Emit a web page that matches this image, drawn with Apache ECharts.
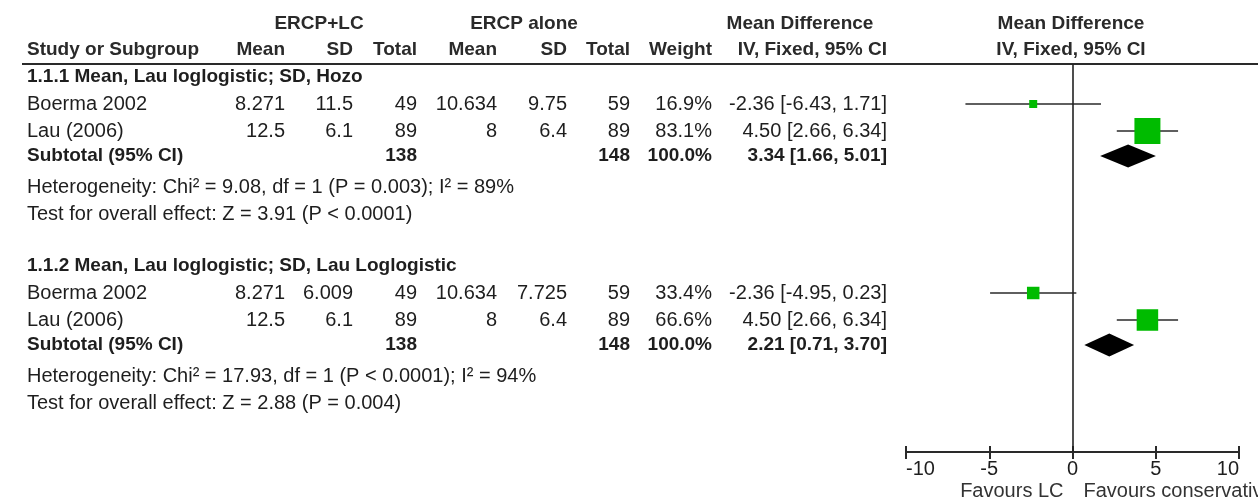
<!DOCTYPE html>
<html>
<head>
<meta charset="utf-8">
<script src="https://cdn.jsdelivr.net/npm/echarts@6/dist/echarts.min.js"></script>
<style>
  html, body { margin: 0; padding: 0; background: #fff; }
  #main { width: 1258px; height: 500px; }
</style>
</head>
<body>
<div id="main"></div>
<script>
// ---- Data: two subgroups, same two studies ----
const groupTitles = [
  '1.1.1 Mean, Lau loglogistic; SD, Hozo',
  '1.1.2 Mean, Lau loglogistic; SD, Lau Loglogistic'
];
const studies = ['Boerma 2002', 'Lau (2006)'];

// ERCP+LC arm
const lcMean  = [[8.271, 12.5], [8.271, 12.5]];
const lcSD    = [[11.5, 6.1],   [6.009, 6.1]];
const lcTotal = [[49, 89],      [49, 89]];
// ERCP alone arm
const alMean  = [[10.634, 8],   [10.634, 8]];
const alSD    = [[9.75, 6.4],   [7.725, 6.4]];
const alTotal = [[59, 89],      [59, 89]];

// study-level results
const weight = [[16.9, 83.1],   [33.4, 66.6]];
const md     = [[-2.36, 4.50],  [-2.36, 4.50]];
const ciLow  = [[-6.43, 2.66],  [-4.95, 2.66]];
const ciHigh = [[1.71, 6.34],   [0.23, 6.34]];

// pooled (subtotal) results
const subLcTotal = [138, 138];
const subAlTotal = [148, 148];
const subWeight  = [100.0, 100.0];
const subMd      = [3.34, 2.21];
const subLow     = [1.66, 0.71];
const subHigh    = [5.01, 3.70];

const heterogeneity = [
  'Heterogeneity: Chi² = 9.08, df = 1 (P = 0.003); I² = 89%',
  'Heterogeneity: Chi² = 17.93, df = 1 (P < 0.0001); I² = 94%'
];
const overallEffect = [
  'Test for overall effect: Z = 3.91 (P < 0.0001)',
  'Test for overall effect: Z = 2.88 (P = 0.004)'
];

const xTicks = { min: -10, max: 10, step: 5 };
const favourLabels = ['Favours LC', 'Favours conservative'];

// ---- Layout ----
const FONT = '"Liberation Sans", Arial, sans-serif';
const FS_REG = 20, FS_BOLD = 19;
const TXT = '#1e1e1e';
const ROW0_Y = 77, ROW_H = 27;          // first table row centre, row pitch
const GRID_TOP = 64, GRID_BOTTOM_Y = 452;
const PLOT_L = 906, PLOT_R = 1239;

// column anchors for the table (x, alignment)
const COL = {
  name: [27, 'left'],
  m1: [285, 'right'], sd1: [353, 'right'], n1: [417, 'right'],
  m2: [497, 'right'], sd2: [567, 'right'], n2: [630, 'right'],
  w: [712, 'right'], ci: [887, 'right']
};

const fmtCI = (e, l, h) => `${e.toFixed(2)} [${l.toFixed(2)}, ${h.toFixed(2)}]`;

// ---- Build table rows and forest marks from the arrays ----
const tableRows = [];   // {row, bold, cells:{col:text}}
const forestData = [];  // [est, row, lo, hi, weight, kind]
let start = 0;
groupTitles.forEach((title, g) => {
  tableRows.push({ row: start, bold: true, cells: { name: title } });
  studies.forEach((s, i) => {
    const r = start + 1 + i;
    tableRows.push({
      row: r, bold: false, cells: {
        name: s,
        m1: String(lcMean[g][i]), sd1: String(lcSD[g][i]), n1: String(lcTotal[g][i]),
        m2: String(alMean[g][i]), sd2: String(alSD[g][i]), n2: String(alTotal[g][i]),
        w: weight[g][i].toFixed(1) + '%',
        ci: fmtCI(md[g][i], ciLow[g][i], ciHigh[g][i])
      }
    });
    forestData.push([md[g][i], r, ciLow[g][i], ciHigh[g][i], weight[g][i], 0]);
  });
  const n = studies.length;
  const subRow = start + n + 0.93;
  tableRows.push({
    row: subRow, bold: true, cells: {
      name: 'Subtotal (95% CI)',
      n1: String(subLcTotal[g]), n2: String(subAlTotal[g]),
      w: subWeight[g].toFixed(1) + '%',
      ci: fmtCI(subMd[g], subLow[g], subHigh[g])
    }
  });
  forestData.push([subMd[g], subRow, subLow[g], subHigh[g], subWeight[g], 1]);
  tableRows.push({ row: start + n + 2.1, bold: false, cells: { name: heterogeneity[g] } });
  tableRows.push({ row: start + n + 3.1, bold: false, cells: { name: overallEffect[g] } });
  start += n + 5.0;
});

const yMin = (GRID_TOP - ROW0_Y) / ROW_H;
const yMax = (GRID_BOTTOM_Y - ROW0_Y) / ROW_H;

function font(bold) { return bold ? ('bold ' + FS_BOLD + 'px ' + FONT) : (FS_REG + 'px ' + FONT); }

function renderTable(params, api) {
  const rec = tableRows[params.dataIndex];
  const y = api.coord([0, api.value(1)])[1];
  const children = Object.keys(rec.cells).map(k => ({
    type: 'text',
    x: COL[k][0], y: y,
    style: {
      text: rec.cells[k], font: font(rec.bold), fill: TXT,
      align: COL[k][1], verticalAlign: 'middle'
    }
  }));
  return { type: 'group', children };
}

function renderForest(params, api) {
  const row = api.value(1);
  const c = api.coord([api.value(0), row]);
  const lo = api.coord([api.value(2), row]);
  const hi = api.coord([api.value(3), row]);
  if (api.value(5) === 1) {
    const hh = 11.5;
    return {
      type: 'polygon',
      shape: { points: [[lo[0], c[1]], [c[0], c[1] - hh], [hi[0], c[1]], [c[0], c[1] + hh]] },
      style: { fill: '#000' }
    };
  }
  const s = 3.4 + 0.272 * api.value(4);
  return {
    type: 'group',
    children: [
      { type: 'line', shape: { x1: lo[0], y1: c[1], x2: hi[0], y2: c[1] },
        style: { stroke: '#2a2a2a', lineWidth: 1.6 } },
      { type: 'rect', shape: { x: c[0] - s / 2, y: c[1] - s / 2, width: s, height: s },
        style: { fill: '#00bb00' } }
    ]
  };
}

function headerText(text, x, y, align) {
  return {
    type: 'text', x, y, silent: true,
    style: { text, font: font(true), fill: '#2a2a2a', align, verticalAlign: 'middle' }
  };
}

const zeroX = PLOT_L + (PLOT_R - PLOT_L) * (0 - xTicks.min) / (xTicks.max - xTicks.min);
const tickStyle = { color: '#2a2a2a', width: 2 };

const chart = echarts.init(document.getElementById('main'), null, { renderer: 'canvas' });
chart.setOption({
  animation: false,
  backgroundColor: '#fff',
  grid: [
    { left: PLOT_L, right: 1258 - PLOT_R, top: GRID_TOP, bottom: 500 - GRID_BOTTOM_Y },
    // thin strip just above the scale, carrying the upward half of each tick
    { left: PLOT_L, right: 1258 - PLOT_R, top: GRID_BOTTOM_Y - 1, height: 1 }
  ],
  xAxis: [
    {
      gridIndex: 0, type: 'value', min: xTicks.min, max: xTicks.max, interval: xTicks.step,
      position: 'bottom',
      axisLine: { show: true, onZero: false, lineStyle: tickStyle },
      axisTick: { show: true, length: 7, lineStyle: tickStyle },
      axisLabel: {
        fontSize: FS_REG, fontFamily: FONT, color: TXT, margin: 7,
        alignMinLabel: 'left', alignMaxLabel: 'right'
      },
      splitLine: { show: false }
    },
    {
      gridIndex: 1, type: 'value', min: xTicks.min, max: xTicks.max, interval: xTicks.step,
      position: 'top',
      axisLine: { show: false },
      axisTick: { show: true, length: 6, lineStyle: tickStyle },
      axisLabel: { show: false },
      splitLine: { show: false }
    }
  ],
  yAxis: [
    { gridIndex: 0, type: 'value', inverse: true, min: yMin, max: yMax, show: false },
    { gridIndex: 1, type: 'value', show: false }
  ],
  series: [
    {
      type: 'custom', name: 'table', clip: false, silent: true,
      renderItem: renderTable,
      encode: { x: 0, y: 1 },
      data: tableRows.map(r => [0, r.row])
    },
    {
      type: 'custom', name: 'forest', clip: false, silent: true,
      renderItem: renderForest,
      encode: { x: 0, y: 1 },
      data: forestData,
      markLine: {
        silent: true, symbol: 'none', label: { show: false },
        lineStyle: { color: '#222', width: 1.6, type: 'solid' },
        data: [{ xAxis: 0 }]
      }
    }
  ],
  graphic: [
    // header rule
    { type: 'line', silent: true,
      shape: { x1: 22, y1: GRID_TOP, x2: 1258, y2: GRID_TOP },
      style: { stroke: '#2a2a2a', lineWidth: 2 } },
    headerText('ERCP+LC', 319, 24, 'center'),
    headerText('ERCP alone', 524, 24, 'center'),
    headerText('Mean Difference', 800, 24, 'center'),
    headerText('Mean Difference', 1071, 24, 'center'),
    headerText('Study or Subgroup', COL.name[0], 50, 'left'),
    headerText('Mean', COL.m1[0], 50, 'right'),
    headerText('SD', COL.sd1[0], 50, 'right'),
    headerText('Total', COL.n1[0], 50, 'right'),
    headerText('Mean', COL.m2[0], 50, 'right'),
    headerText('SD', COL.sd2[0], 50, 'right'),
    headerText('Total', COL.n2[0], 50, 'right'),
    headerText('Weight', COL.w[0], 50, 'right'),
    headerText('IV, Fixed, 95% CI', COL.ci[0], 50, 'right'),
    headerText('IV, Fixed, 95% CI', 1071, 50, 'center'),
    { type: 'text', silent: true, x: zeroX - 9, y: 491,
      style: { text: favourLabels[0], font: font(false), fill: '#333', align: 'right', verticalAlign: 'middle' } },
    { type: 'text', silent: true, x: zeroX + 11, y: 491,
      style: { text: favourLabels[1], font: font(false), fill: '#333', align: 'left', verticalAlign: 'middle' } }
  ]
});
</script>
</body>
</html>
